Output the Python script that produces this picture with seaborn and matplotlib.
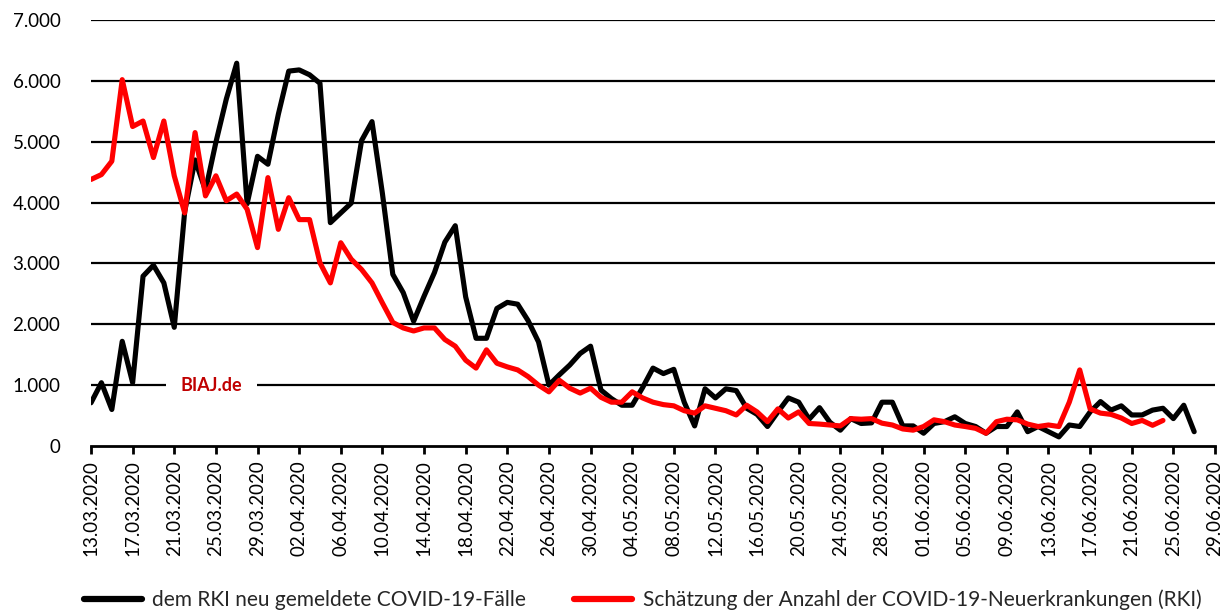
import matplotlib
matplotlib.use("Agg")
import matplotlib.pyplot as plt
from matplotlib.ticker import FuncFormatter
from matplotlib.lines import Line2D
import pandas as pd
import seaborn as sns

# ---- data ----
start_date = "2020-03-13"
label_black = "dem RKI neu gemeldete COVID-19-Fälle"
label_red = "Schätzung der Anzahl der COVID-19-Neuerkrankungen (RKI)"

gemeldete_faelle = [
    710, 1040, 600, 1720, 1040, 2790, 2970, 2680, 1950, 3850,
    4700, 4200, 4990, 5700, 6290, 3980, 4760, 4630, 5450, 6160,
    6180, 6100, 5960, 3670, 3830, 3990, 5020, 5330, 4150, 2820,
    2520, 2050, 2460, 2850, 3350, 3620, 2450, 1770, 1770, 2260,
    2360, 2330, 2060, 1710, 1000, 1170, 1330, 1520, 1640, 920,
    780, 670, 670, 960, 1280, 1190, 1260, 720, 330, 940,
    790, 940, 910, 620, 520, 320, 560, 790, 720, 440,
    630, 390, 260, 450, 370, 380, 720, 720, 330, 330,
    210, 370, 400, 480, 370, 320, 210, 320, 320, 560,
    235, 320, 235, 150, 345, 320, 560, 730, 590, 660,
    510, 510, 590, 620, 450, 670, 235,
]

schaetzung = [
    4380, 4460, 4680, 6020, 5250, 5340, 4740, 5340, 4440, 3830,
    5150, 4110, 4440, 4030, 4140, 3890, 3260, 4410, 3560, 4080,
    3720, 3720, 3010, 2680, 3340, 3070, 2900, 2680, 2350, 2030,
    1940, 1890, 1940, 1940, 1750, 1640, 1410, 1280, 1580, 1360,
    1300, 1250, 1140, 1000, 890, 1080, 950, 870, 950, 800,
    720, 720, 890, 790, 720, 680, 660, 580, 540, 660,
    620, 580, 510, 670, 560, 400, 610, 460, 560, 370,
    360, 345, 330, 450, 440, 450, 375, 345, 280, 260,
    320, 430, 400, 345, 320, 290, 210, 400, 440, 430,
    360, 320, 345, 320, 720, 1250, 610, 540, 520, 460,
    370, 420, 340, 420,
]

y_ticks = [0, 1000, 2000, 3000, 4000, 5000, 6000, 7000]
x_end_date = "2020-06-29"
watermark = "BIAJ.de"

# ---- build tidy table ----
d_black = pd.date_range(start_date, periods=len(gemeldete_faelle), freq="D")
d_red = pd.date_range(start_date, periods=len(schaetzung), freq="D")
df = pd.concat([
    pd.DataFrame({"Datum": d_black, "Wert": gemeldete_faelle, "Reihe": label_black}),
    pd.DataFrame({"Datum": d_red, "Wert": schaetzung, "Reihe": label_red}),
], ignore_index=True)

sns.set_theme(style="white")
plt.rcParams["font.family"] = ["Lato", "DejaVu Sans"]

fig = plt.figure(figsize=(12.31, 6.15), dpi=100)
ax = fig.add_axes([91 / 1231, 1 - 446 / 615, (1215 - 91) / 1231, (446 - 20) / 615])

# gridlines
for yv in y_ticks[1:]:
    ax.axhline(yv, color="black", lw=1.6, zorder=1)

sns.lineplot(data=df, x="Datum", y="Wert", hue="Reihe",
             palette={label_black: "black", label_red: "#FF0000"},
             hue_order=[label_black, label_red],
             lw=3.7, ax=ax, legend=False, zorder=3)

x0 = pd.Timestamp(start_date)
x1 = pd.Timestamp(x_end_date)
ax.set_xlim(x0, x1)
ax.set_ylim(0, 7000)
ax.set_yticks(y_ticks)
ax.yaxis.set_major_formatter(FuncFormatter(lambda v, p: f"{int(v):,}".replace(",", ".")))
ticks = pd.date_range(start_date, x_end_date, freq="4D")
ax.set_xticks(ticks)
ax.set_xticklabels([t.strftime("%d.%m.%Y") for t in ticks], rotation=90)

ax.set_xlabel("")
ax.set_ylabel("")
for s in ["top", "right", "left"]:
    ax.spines[s].set_visible(False)
ax.spines["bottom"].set_color("black")
ax.spines["bottom"].set_linewidth(2.0)
ax.spines["bottom"].set_zorder(2)
ax.tick_params(axis="x", direction="out", length=6, width=2, color="black",
               labelsize=13.5, pad=4, labelcolor="black", bottom=True)
ax.tick_params(axis="y", length=0, labelsize=13.5, pad=22, labelcolor="black")

# watermark
ax.text(pd.Timestamp("2020-03-24 14:00"), 1000, watermark, color="#C00000",
        fontsize=13, fontweight="bold", ha="center", va="center", zorder=2,
        bbox=dict(boxstyle="square,pad=0.8", fc="white", ec="none"))

handles = [Line2D([0], [0], color="black", lw=4.5),
           Line2D([0], [0], color="#FF0000", lw=4.5)]
fig.legend(handles, [label_black, label_red], loc="center",
           bbox_to_anchor=(0.522, 1 - 600 / 615), ncol=2, frameon=False,
           fontsize=15, handlelength=2.8, columnspacing=2.3, handletextpad=0.5)

fig.savefig("out.png", dpi=100)
